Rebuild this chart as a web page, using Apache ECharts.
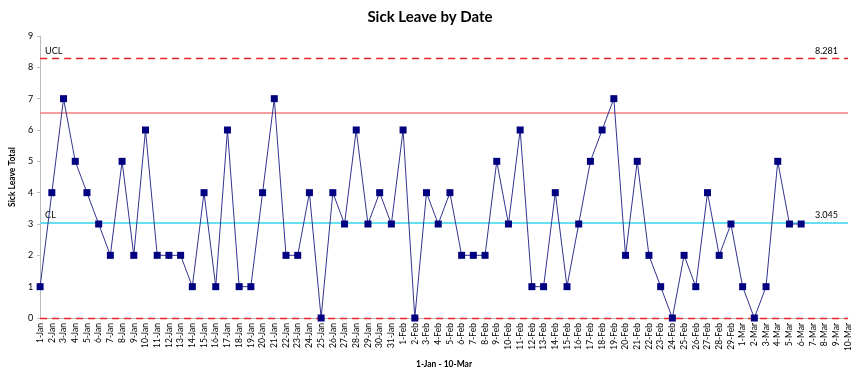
<!DOCTYPE html>
<html><head><meta charset="utf-8">
<script src="https://cdn.jsdelivr.net/npm/echarts@6/dist/echarts.min.js"></script>
<style>html,body{margin:0;padding:0;background:#fff}#c{width:860px;height:374px}</style>
</head><body><div id="c"></div>
<script>
const categories = [
'1-Jan','2-Jan','3-Jan','4-Jan','5-Jan','6-Jan','7-Jan','8-Jan','9-Jan','10-Jan','11-Jan','12-Jan','13-Jan','14-Jan','15-Jan','16-Jan','17-Jan','18-Jan','19-Jan','20-Jan','21-Jan','22-Jan','23-Jan','24-Jan','25-Jan','26-Jan','27-Jan','28-Jan','29-Jan','30-Jan','31-Jan',
'1-Feb','2-Feb','3-Feb','4-Feb','5-Feb','6-Feb','7-Feb','8-Feb','9-Feb','10-Feb','11-Feb','12-Feb','13-Feb','14-Feb','15-Feb','16-Feb','17-Feb','18-Feb','19-Feb','20-Feb','21-Feb','22-Feb','23-Feb','24-Feb','25-Feb','26-Feb','27-Feb','28-Feb','29-Feb',
'1-Mar','2-Mar','3-Mar','4-Mar','5-Mar','6-Mar','7-Mar','8-Mar','9-Mar','10-Mar'];
const sickLeave = [
1,4,7,5,4,3,2,5,2,6,2,2,2,1,4,1,6,1,1,4,7,2,2,4,0,4,3,6,3,4,3,
6,0,4,3,4,2,2,2,5,3,6,1,1,4,1,3,5,6,7,2,5,2,1,0,2,1,4,2,3,
1,0,1,5,3,3];
const ucl = 8.281;
const cl = 3.045;
const lcl = 0;
const warn = 6.536;
const yTicks = [0,1,2,3,4,5,6,7,8,9];

const F = 'Lato, "Open Sans", sans-serif';
const chart = echarts.init(document.getElementById('c'));
chart.setOption({
  animation:false,
  title:{text:'Sick Leave by Date',left:'center',top:5,textStyle:{fontFamily:F,fontSize:15,fontWeight:'bold',color:'#000'}},
  grid:{left:36,right:12,top:36,bottom:51},
  xAxis:{type:'category',data:categories,boundaryGap:false,
    name:'1-Jan - 10-Mar',nameLocation:'middle',nameGap:42,
    nameTextStyle:{fontFamily:F,fontSize:8.5,fontWeight:'bold',color:'#000'},
    axisLine:{lineStyle:{color:'#bbb'}},axisTick:{show:false},
    axisLabel:{interval:0,rotate:90,fontFamily:F,fontSize:8.5,color:'#000',margin:5}},
  yAxis:{type:'value',min:yTicks[0],max:yTicks[yTicks.length-1],interval:1,
    name:'Sick Leave Total',nameLocation:'middle',nameGap:21,
    nameTextStyle:{fontFamily:F,fontSize:8.5,fontWeight:'bold',color:'#000'},
    axisLine:{show:true,lineStyle:{color:'#bbb'}},axisTick:{show:true,length:3,lineStyle:{color:'#bbb'}},
    splitLine:{show:false},
    axisLabel:{fontFamily:F,fontSize:9,color:'#000',margin:7}},
  series:[{
    type:'line',data:sickLeave,symbol:'rect',symbolSize:7,
    lineStyle:{color:'#33338f',width:1},itemStyle:{color:'#000080'},z:5,
    markLine:{symbol:'none',silent:true,animation:false,
      label:{fontFamily:F,fontSize:9,color:'#000'},
      data:[
        {yAxis:ucl,lineStyle:{color:'#ee2222',type:[7,5],width:1.3,opacity:1},label:{position:'insideStartTop',formatter:'UCL',distance:[5,3],color:'#000'}},
        {yAxis:ucl,lineStyle:{color:'rgba(0,0,0,0)',width:0},label:{position:'insideEndTop',formatter:String(ucl),distance:[10,3],color:'#000'}},
        {yAxis:cl,lineStyle:{color:'#66e0f0',type:'solid',width:2,opacity:1},label:{position:'insideStartTop',formatter:'CL',distance:[5,3],color:'#000'}},
        {yAxis:cl,lineStyle:{color:'rgba(0,0,0,0)',width:0},label:{position:'insideEndTop',formatter:String(cl),distance:[10,3],color:'#000'}},
        {yAxis:warn,lineStyle:{color:'#f47c7c',type:'solid',width:1.5,opacity:1},label:{show:false}},
        {yAxis:lcl,lineStyle:{color:'#ee2222',type:[7,5],width:1.3,opacity:1},label:{show:false}}
      ]}
  }]
});
</script></body></html>
